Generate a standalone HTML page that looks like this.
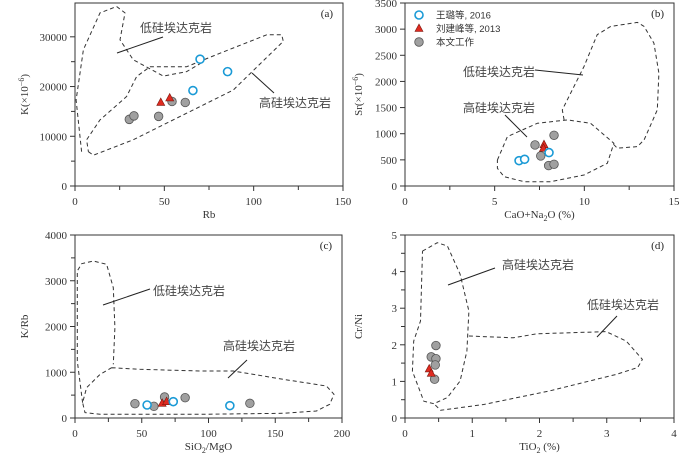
<!DOCTYPE html>
<html><head><meta charset="utf-8">
<style>
html,body{margin:0;padding:0;background:#fff;}
svg{display:block;font-family:"Liberation Serif","Noto Serif CJK SC",serif;}
.cn{font-family:"Liberation Sans","Noto Sans CJK SC",sans-serif;}
</style></head>
<body>
<svg id="fig" width="700" height="457" viewBox="0 0 700 457" xmlns="http://www.w3.org/2000/svg"></svg>
<script>
// ---------- data ----------
// panel a: Rb vs K
const aWangRb=[66,70,85.4], aWangK=[19200,25500,23000];
const aLiuRb=[48,53], aLiuK=[16800,17700];
const aThisRb=[30.4,33,46.8,54.3,61.7], aThisK=[13400,14100,14000,17000,16800];
const aXTicks=[0,50,100,150], aYTicks=[0,10000,20000,30000];
// panel b: CaO+Na2O vs Sr
const bWangX=[6.36,6.67,8.03], bWangY=[485,511,639];
const bLiuX=[7.75,7.72], bLiuY=[790,720];
const bThisX=[7.25,8.31,7.57,8.01,8.31], bThisY=[785,970,575,390,415];
const bXTicks=[0,5,10,15], bYTicks=[0,500,1000,1500,2000,2500,3000,3500];
// panel c: SiO2/MgO vs K/Rb
const cWangX=[54,73.6,116], cWangY=[284,357,270];
const cLiuX=[65.3,68.6], cLiuY=[320,357];
const cThisX=[44.9,59.1,67.1,82.5,131], cThisY=[313,255,459,444,320];
const cXTicks=[0,50,100,150,200], cYTicks=[0,1000,2000,3000,4000];
// panel d: TiO2 vs Cr/Ni
const dLiuX=[0.36,0.39], dLiuY=[1.34,1.22];
const dThisX=[0.46,0.39,0.46,0.45,0.44], dThisY=[1.98,1.67,1.62,1.45,1.06];
const dXTicks=[0,1,2,3,4], dYTicks=[0,1,2,3,4,5];
// field outlines (data units)
const aLowField=[[3.7,6900],[0.6,17300],[4.7,27400],[14,34800],[23.3,36100],[28,34800],[25.2,29400],[32.6,25400],[49.4,22100],[62.5,23000],[71.8,25000]];
const aHighField=[[7.5,6900],[10.3,6200],[32.6,9300],[88.6,19300],[116.6,29100],[115.7,30400],[107.3,30400],[81.2,26700],[62.5,24000],[42,24000],[34.5,22000],[28.9,18000],[14,13300],[6.5,9300],[7.5,6900]];
const bHighField=[[5.15,498],[5.71,945],[7.38,1200],[9.05,1264],[10.35,1200],[11.65,817],[11.28,434],[9.98,211],[8.12,83],[6.64,83],[5.52,179],[5.15,338],[5.15,498]];
const bLowField=[[8.87,1264],[8.77,1456],[9.05,1648],[9.98,2286],[10.72,2893],[11.47,3053],[12.96,3129],[13.33,3053],[13.88,2733],[14.16,2158],[14.07,1456],[13.33,881],[12.96,754],[11.84,722],[11.65,790]];
const cLowField=[[5.7,335],[1.7,1246],[1.7,3213],[5,3373],[13.7,3432],[23.7,3359],[28.7,2849],[29.9,1975],[28.7,1173]];
const cHighField=[[27.4,1100],[48.6,1064],[93.5,1027],[118.5,1027],[155.9,845],[188.3,700],[194,517],[190.8,299],[180.8,153],[155.9,102],[93.5,80],[18.7,80],[7.5,117],[5.7,335],[8.7,663],[18.7,954],[27.4,1100]];
const dHighField=[[0.26,4.56],[0.48,4.79],[0.63,4.70],[0.82,3.93],[0.95,2.92],[0.92,1.83],[0.82,1.01],[0.63,0.56],[0.43,0.39],[0.28,0.46],[0.11,1.28],[0.13,2.10],[0.23,2.65],[0.26,4.56]];
const dLowField=[[0.95,2.24],[1.61,2.19],[1.96,2.30],[2.99,2.36],[3.29,2.10],[3.53,1.60],[3.46,1.38],[3.14,1.19],[2.15,0.74],[1.17,0.37],[0.53,0.21],[0.43,0.39]];

const NS="http://www.w3.org/2000/svg";
const svg=document.getElementById('fig');
function mk(tag,attrs,parent,text){const e=document.createElementNS(NS,tag);for(const k in attrs)e.setAttribute(k,attrs[k]);if(text!==undefined)e.textContent=text;(parent||svg).appendChild(e);return e;}

function panel(cfg){
  const g=mk('g',{});
  
  
  const sx=v=>cfg.L+(v-cfg.x0)/(cfg.x1-cfg.x0)*(cfg.R-cfg.L);
  const sy=v=>cfg.B-(v-cfg.y0)/(cfg.y1-cfg.y0)*(cfg.B-cfg.T);
  const frame=mk('rect',{x:cfg.L,y:cfg.T,width:cfg.R-cfg.L,height:cfg.B-cfg.T,fill:'none',stroke:'#333','stroke-width':1},g);
  
  
  // ticks
  const step=(cfg.xt[1]-cfg.xt[0]);
  cfg.xt.forEach((v,i)=>{
    const x=sx(v);
    mk('line',{x1:x,y1:cfg.B,x2:x,y2:cfg.B+5,stroke:'#333'},g);
    const t=mk('text',{x:x,y:cfg.B+19,'text-anchor':'middle','font-size':11,fill:'#333'},g,String(v));
    
    
    if(i<cfg.xt.length-1){const xm=sx(v+step/2);mk('line',{x1:xm,y1:cfg.B,x2:xm,y2:cfg.B+4,stroke:'#333'},g);}
  });
  const ys=(cfg.yt[1]-cfg.yt[0]);
  cfg.yt.forEach((v,i)=>{
    const y=sy(v);
    mk('line',{x1:cfg.L-5,y1:y,x2:cfg.L,y2:y,stroke:'#333'},g);
    const t=mk('text',{x:cfg.L-8,y:y+4,'text-anchor':'end','font-size':11,fill:'#333'},g,String(v));
    
    
    if(cfg.ymin && i<cfg.yt.length-1){const ym=sy(v+ys/2);mk('line',{x1:cfg.L-4,y1:ym,x2:cfg.L,y2:ym,stroke:'#333'},g);}
  });
  const xt=mk('text',{x:(cfg.L+cfg.R)/2,y:cfg.B+32,'text-anchor':'middle','font-size':11,fill:'#333'},g);
  xt.innerHTML=cfg.xlab;
  
  
  const yt=mk('text',{x:0,y:0,'text-anchor':'middle','font-size':11,fill:'#333',transform:`translate(${cfg.ylx},${(cfg.T+cfg.B)/2}) rotate(-90)`},g);
  yt.innerHTML=cfg.ylab;
  
  
  const pl=mk('text',{x:cfg.R-10,y:cfg.T+14,'text-anchor':'end','font-size':11,fill:'#222'},g,'('+cfg.id+')');
  
  
  // fields
  cfg.fields.forEach(f=>{
    const d=f.pts.map((p,i)=>(i?'L':'M')+sx(p[0]).toFixed(1)+','+sy(p[1]).toFixed(1)).join(' ');
    const p=mk('path',{d:d,fill:'none',stroke:'#333','stroke-width':1,'stroke-dasharray':'4,3','stroke-linejoin':'round'},g);
    
    
  });
  cfg.labels.forEach(l=>{
    mk('line',{x1:l.line[0],y1:l.line[1],x2:l.line[2],y2:l.line[3],stroke:'#222','stroke-width':1},g);
    const t=mk('text',{x:l.x,y:l.y,'font-size':12,fill:'#444',class:'cn'},g,l.text);
    
    
  });
  const drawPts=(xs,ys2,type)=>{
    xs.forEach((v,i)=>{
      const x=sx(v),y=sy(ys2[i]);let e;
      if(type==='wang') e=mk('circle',{cx:x,cy:y,r:4,fill:'#fff',stroke:'#1a9ad6','stroke-width':1.6},g);
      else if(type==='liu') e=mk('path',{d:`M${x},${y-4.5} L${x+4},${y+3} L${x-4},${y+3} Z`,fill:'#e02a20',stroke:'#7a1a10','stroke-width':0.6},g);
      else e=mk('circle',{cx:x,cy:y,r:4.3,fill:'#a0a0a0',stroke:'#555','stroke-width':0.8},g);
      
      
    });
  };
  (cfg.series||[]).forEach(s=>drawPts(s[0],s[1],s[2]));
}

panel({id:'a',L:75,R:343,T:3,B:186,x0:0,x1:150,y0:0,y1:36800,xt:aXTicks,yt:aYTicks,ymin:true,
  xlab:'Rb',ylab:'K(×10<tspan dy="-4" font-size="8">−6</tspan><tspan dy="4">)</tspan>',ylx:28,
  fields:[{name:'low-si-adakite-field',pts:aLowField},{name:'high-si-adakite-field',pts:aHighField}],
  labels:[{text:'低硅埃达克岩',x:140,y:32,line:[117,53,163,37]},{text:'高硅埃达克岩',x:259,y:107,line:[252,73,274,93]}],
  series:[[aThisRb,aThisK,'this'],[aLiuRb,aLiuK,'liu'],[aWangRb,aWangK,'wang']]});
panel({id:'b',L:405,R:674,T:3,B:186,x0:0,x1:15,y0:0,y1:3500,xt:bXTicks,yt:bYTicks,ymin:false,
  xlab:'CaO+Na<tspan dy="3" font-size="8">2</tspan><tspan dy="-3">O (%)</tspan>',ylab:'Sr(×10<tspan dy="-4" font-size="8">−6</tspan><tspan dy="4">)</tspan>',ylx:362,
  fields:[{name:'high-si-adakite-field',pts:bHighField},{name:'low-si-adakite-field',pts:bLowField}],
  labels:[{text:'低硅埃达克岩',x:463,y:76,line:[535,70,583,75]},{text:'高硅埃达克岩',x:463,y:112,line:[505,115,527,137]}],
  series:[[bThisX,bThisY,'this'],[bLiuX,bLiuY,'liu'],[bWangX,bWangY,'wang']]});
panel({id:'c',L:75,R:342,T:235,B:418,x0:0,x1:200,y0:0,y1:4000,xt:cXTicks,yt:cYTicks,ymin:true,
  xlab:'SiO<tspan dy="3" font-size="8">2</tspan><tspan dy="-3">/MgO</tspan>',ylab:'K/Rb',ylx:28,
  fields:[{name:'low-si-adakite-field',pts:cLowField},{name:'high-si-adakite-field',pts:cHighField}],
  labels:[{text:'低硅埃达克岩',x:153,y:295,line:[103,305,150,289]},{text:'高硅埃达克岩',x:223,y:350,line:[228,378,247,360]}],
  series:[[cThisX,cThisY,'this'],[cLiuX,cLiuY,'liu'],[cWangX,cWangY,'wang']]});
panel({id:'d',L:405,R:674,T:235,B:418,x0:0,x1:4,y0:0,y1:5,xt:dXTicks,yt:dYTicks,ymin:true,
  xlab:'TiO<tspan dy="3" font-size="8">2</tspan><tspan dy="-3"> (%)</tspan>',ylab:'Cr/Ni',ylx:362,
  fields:[{name:'high-si-adakite-field',pts:dHighField},{name:'low-si-adakite-field',pts:dLowField}],
  labels:[{text:'高硅埃达克岩',x:502,y:269,line:[448,285,495,268]},{text:'低硅埃达克岩',x:587,y:309,line:[597,337,617,316]}],
  series:[[dThisX,dThisY,'this'],[dLiuX,dLiuY,'liu']]});

// legend
const lg=mk('g',{});


const legItems=[['wang','王璐等, 2016'],['liu','刘建峰等, 2013'],['this','本文工作']];
legItems.forEach((it,i)=>{
  const y=15+i*13.5,x=419;let e;
  if(it[0]==='wang') e=mk('circle',{cx:x,cy:y,r:4,fill:'#fff',stroke:'#1a9ad6','stroke-width':1.6},lg);
  else if(it[0]==='liu') e=mk('path',{d:`M${x},${y-4.5} L${x+4},${y+3} L${x-4},${y+3} Z`,fill:'#e02a20',stroke:'#7a1a10','stroke-width':0.6},lg);
  else e=mk('circle',{cx:x,cy:y,r:4.3,fill:'#a0a0a0',stroke:'#555','stroke-width':0.8},lg);
  
  
  const t=mk('text',{x:436,y:y+3.5,'font-size':9.5,fill:'#333',class:'cn'},lg,it[1]);
  
  
});
</script>
</body></html>
